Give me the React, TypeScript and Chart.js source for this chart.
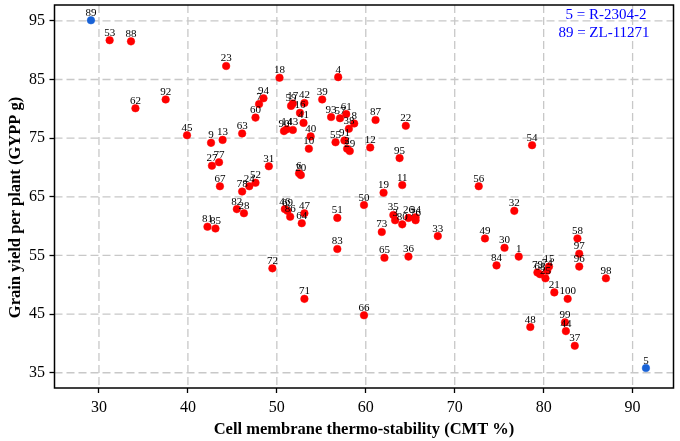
import React, { useEffect, useRef } from "react";
import { Chart, registerables } from "chart.js";

Chart.register(...registerables);

// genotype numbers, CMT % and grain yield per plant
const genotypes = [
  "89", "53", "88", "23", "62", "92", "45", "9", "13", "63",
  "18", "94", "7", "60", "17", "59", "42", "16", "41", "40",
  "10", "90", "14", "43", "39", "4", "93", "57", "61", "8",
  "38", "55", "91", "2", "29", "87", "22", "12", "95", "54",
  "56", "11", "19", "27", "77", "31", "6", "20", "67", "78",
  "24", "52", "82", "28", "81", "85", "72", "46", "69", "86",
  "47", "64", "51", "50", "35", "3", "80", "26", "34", "76",
  "73", "33", "83", "65", "36", "71", "66", "32", "49", "30",
  "1", "84", "58", "97", "96", "98", "79", "68", "25", "74",
  "15", "21", "100", "48", "99", "44", "37", "5",
];
const cmt = [
  29.1, 31.2, 33.6, 44.3, 34.1, 37.5, 39.9, 42.6, 43.9, 46.1,
  50.3, 48.5, 48.0, 47.6, 51.8, 51.6, 53.1, 52.6, 53.0, 53.8,
  53.6, 50.8, 51.1, 51.8, 55.1, 56.9, 56.1, 57.1, 57.8, 58.7,
  58.1, 56.6, 57.6, 57.9, 58.2, 61.1, 64.5, 60.5, 63.8, 78.7,
  72.7, 64.1, 62.0, 42.7, 43.5, 49.1, 52.5, 52.7, 43.6, 46.1,
  46.9, 47.6, 45.5, 46.3, 42.2, 43.1, 49.5, 50.9, 51.2, 51.5,
  53.1, 52.8, 56.8, 59.8, 63.1, 63.3, 64.1, 64.8, 65.6, 65.6,
  61.8, 68.1, 56.8, 62.1, 64.8, 53.1, 59.8, 76.7, 73.4, 75.6,
  77.2, 74.7, 83.8, 84.0, 84.0, 87.0, 79.3, 79.6, 80.2, 80.4,
  80.6, 81.2, 82.7, 78.5, 82.4, 82.5, 83.5, 91.5,
];
const gypp = [
  95.1, 91.7, 91.5, 87.3, 80.1, 81.6, 75.5, 74.2, 74.7, 75.8,
  85.3, 81.8, 80.8, 78.5, 80.9, 80.5, 81.0, 79.3, 77.6, 75.3,
  73.2, 76.2, 76.5, 76.4, 81.6, 85.4, 78.6, 78.4, 79.1, 77.5,
  76.6, 74.3, 74.6, 73.2, 72.8, 78.1, 77.1, 73.4, 71.6, 73.8,
  66.8, 67.0, 65.7, 70.3, 70.9, 70.2, 69.0, 68.7, 66.8, 65.9,
  66.8, 67.4, 62.9, 62.2, 59.9, 59.6, 52.8, 62.9, 62.6, 61.6,
  62.2, 60.5, 61.4, 63.6, 61.9, 61.0, 60.3, 61.4, 61.5, 61.0,
  59.0, 58.3, 56.1, 54.6, 54.8, 47.6, 44.8, 62.6, 57.9, 56.3,
  54.8, 53.3, 57.9, 55.3, 53.1, 51.1, 52.1, 51.8, 51.1, 52.4,
  53.1, 48.7, 47.6, 42.8, 43.6, 42.1, 39.6, 35.8,
];
const checkIds = ["5", "89"];
const xTicks = [30, 40, 50, 60, 70, 80, 90];
const yTicks = [35, 45, 55, 65, 75, 85, 95];
const keyLines = ["5 = R-2304-2", "89 = ZL-11271"];
const xTitle = "Cell membrane thermo-stability (CMT %)";
const yTitle = "Grain yield per plant (GYPP g)";

const serif = '"Liberation Serif", "Times New Roman", serif';

const decor = {
  id: "decor",
  beforeDatasetsDraw(chart) {
    const { ctx, chartArea: a, scales } = chart;
    ctx.save();
    ctx.strokeStyle = "#c8c8c8";
    ctx.lineWidth = 1.3;
    ctx.setLineDash([8, 4]);
    xTicks.forEach((v) => {
      const px = scales.x.getPixelForValue(v);
      ctx.beginPath();
      ctx.moveTo(px, a.top);
      ctx.lineTo(px, a.bottom);
      ctx.stroke();
    });
    yTicks.forEach((v) => {
      const py = scales.y.getPixelForValue(v);
      ctx.beginPath();
      ctx.moveTo(a.left, py);
      ctx.lineTo(a.right, py);
      ctx.stroke();
    });
    ctx.restore();
  },
  afterDatasetsDraw(chart) {
    const { ctx, chartArea: a } = chart;
    const meta = chart.getDatasetMeta(0);
    ctx.save();
    // point labels
    ctx.fillStyle = "#000";
    ctx.font = `11px ${serif}`;
    ctx.textAlign = "center";
    ctx.textBaseline = "alphabetic";
    meta.data.forEach((pt, i) => {
      ctx.fillText(genotypes[i], pt.x, pt.y - 4.5);
    });
    // frame
    ctx.strokeStyle = "#000";
    ctx.lineWidth = 1.5;
    ctx.strokeRect(a.left, a.top, a.right - a.left, a.bottom - a.top);
    // key
    ctx.fillStyle = "#0000ff";
    ctx.font = `15px ${serif}`;
    ctx.fillText(keyLines[0], 606, 18.5);
    ctx.fillText(keyLines[1], 604, 37);
    // axis titles
    ctx.fillStyle = "#000";
    ctx.font = `bold 16.5px ${serif}`;
    ctx.textBaseline = "middle";
    ctx.fillText(xTitle, (a.left + a.right) / 2, 430);
    ctx.translate(16, 207.5);
    ctx.rotate(-Math.PI / 2);
    ctx.fillText(yTitle, 0, 0);
    ctx.restore();
  },
};

const ScatterChart: React.FC = () => {
  const canvasRef = useRef<HTMLCanvasElement>(null);
  const chartRef = useRef<any>(null);

  useEffect(() => {
    if (!canvasRef.current) return;
    if (chartRef.current) chartRef.current.destroy();

    const points = cmt.map((v, i) => ({ x: v, y: gypp[i] }));
    const colors = genotypes.map((g) => (checkIds.includes(g) ? "#1862d6" : "#ff0000"));

    const tickFont = { family: serif, size: 16 };

    chartRef.current = new Chart(canvasRef.current, {
      type: "scatter",
      data: {
        datasets: [
          {
            data: points,
            pointRadius: 3.8,
            pointHoverRadius: 3.8,
            pointBackgroundColor: colors,
            pointBorderColor: colors,
            pointBorderWidth: 0.5,
          },
        ],
      },
      options: {
        animation: false,
        responsive: true,
        maintainAspectRatio: false,
        layout: { padding: { top: 5, right: 6.5, left: 0, bottom: 0 } },
        plugins: { legend: { display: false }, tooltip: { enabled: false } },
        scales: {
          x: {
            type: "linear",
            min: 25,
            max: 94.6,
            afterBuildTicks: (s) => {
              s.ticks = xTicks.map((v) => ({ value: v }));
            },
            afterFit: (s) => {
              s.height = 53;
              s.paddingLeft = 0;
              s.paddingRight = 0;
            },
            ticks: { color: "#000", font: tickFont, padding: 5, maxRotation: 0 },
            grid: { display: true, drawOnChartArea: false, drawTicks: true, tickLength: 5, tickColor: "#000", tickWidth: 1.3 },
            border: { display: false },
          },
          y: {
            type: "linear",
            min: 32.4,
            max: 97.7,
            afterBuildTicks: (s) => {
              s.ticks = yTicks.map((v) => ({ value: v }));
            },
            afterFit: (s) => {
              s.width = 54.5;
              s.paddingTop = 0;
              s.paddingBottom = 0;
            },
            ticks: { color: "#000", font: tickFont, padding: 4.5 },
            grid: { display: true, drawOnChartArea: false, drawTicks: true, tickLength: 5, tickColor: "#000", tickWidth: 1.3 },
            border: { display: false },
          },
        },
      },
      plugins: [decor],
    });

    return () => {
      if (chartRef.current) {
        chartRef.current.destroy();
        chartRef.current = null;
      }
    };
  }, []);

  return <canvas ref={canvasRef} />;
};

export default function App() {
  return (
    <div style={{ position: "absolute", left: 0, top: 0, width: 680, height: 441, background: "#fff" }}>
      <ScatterChart />
    </div>
  );
}
